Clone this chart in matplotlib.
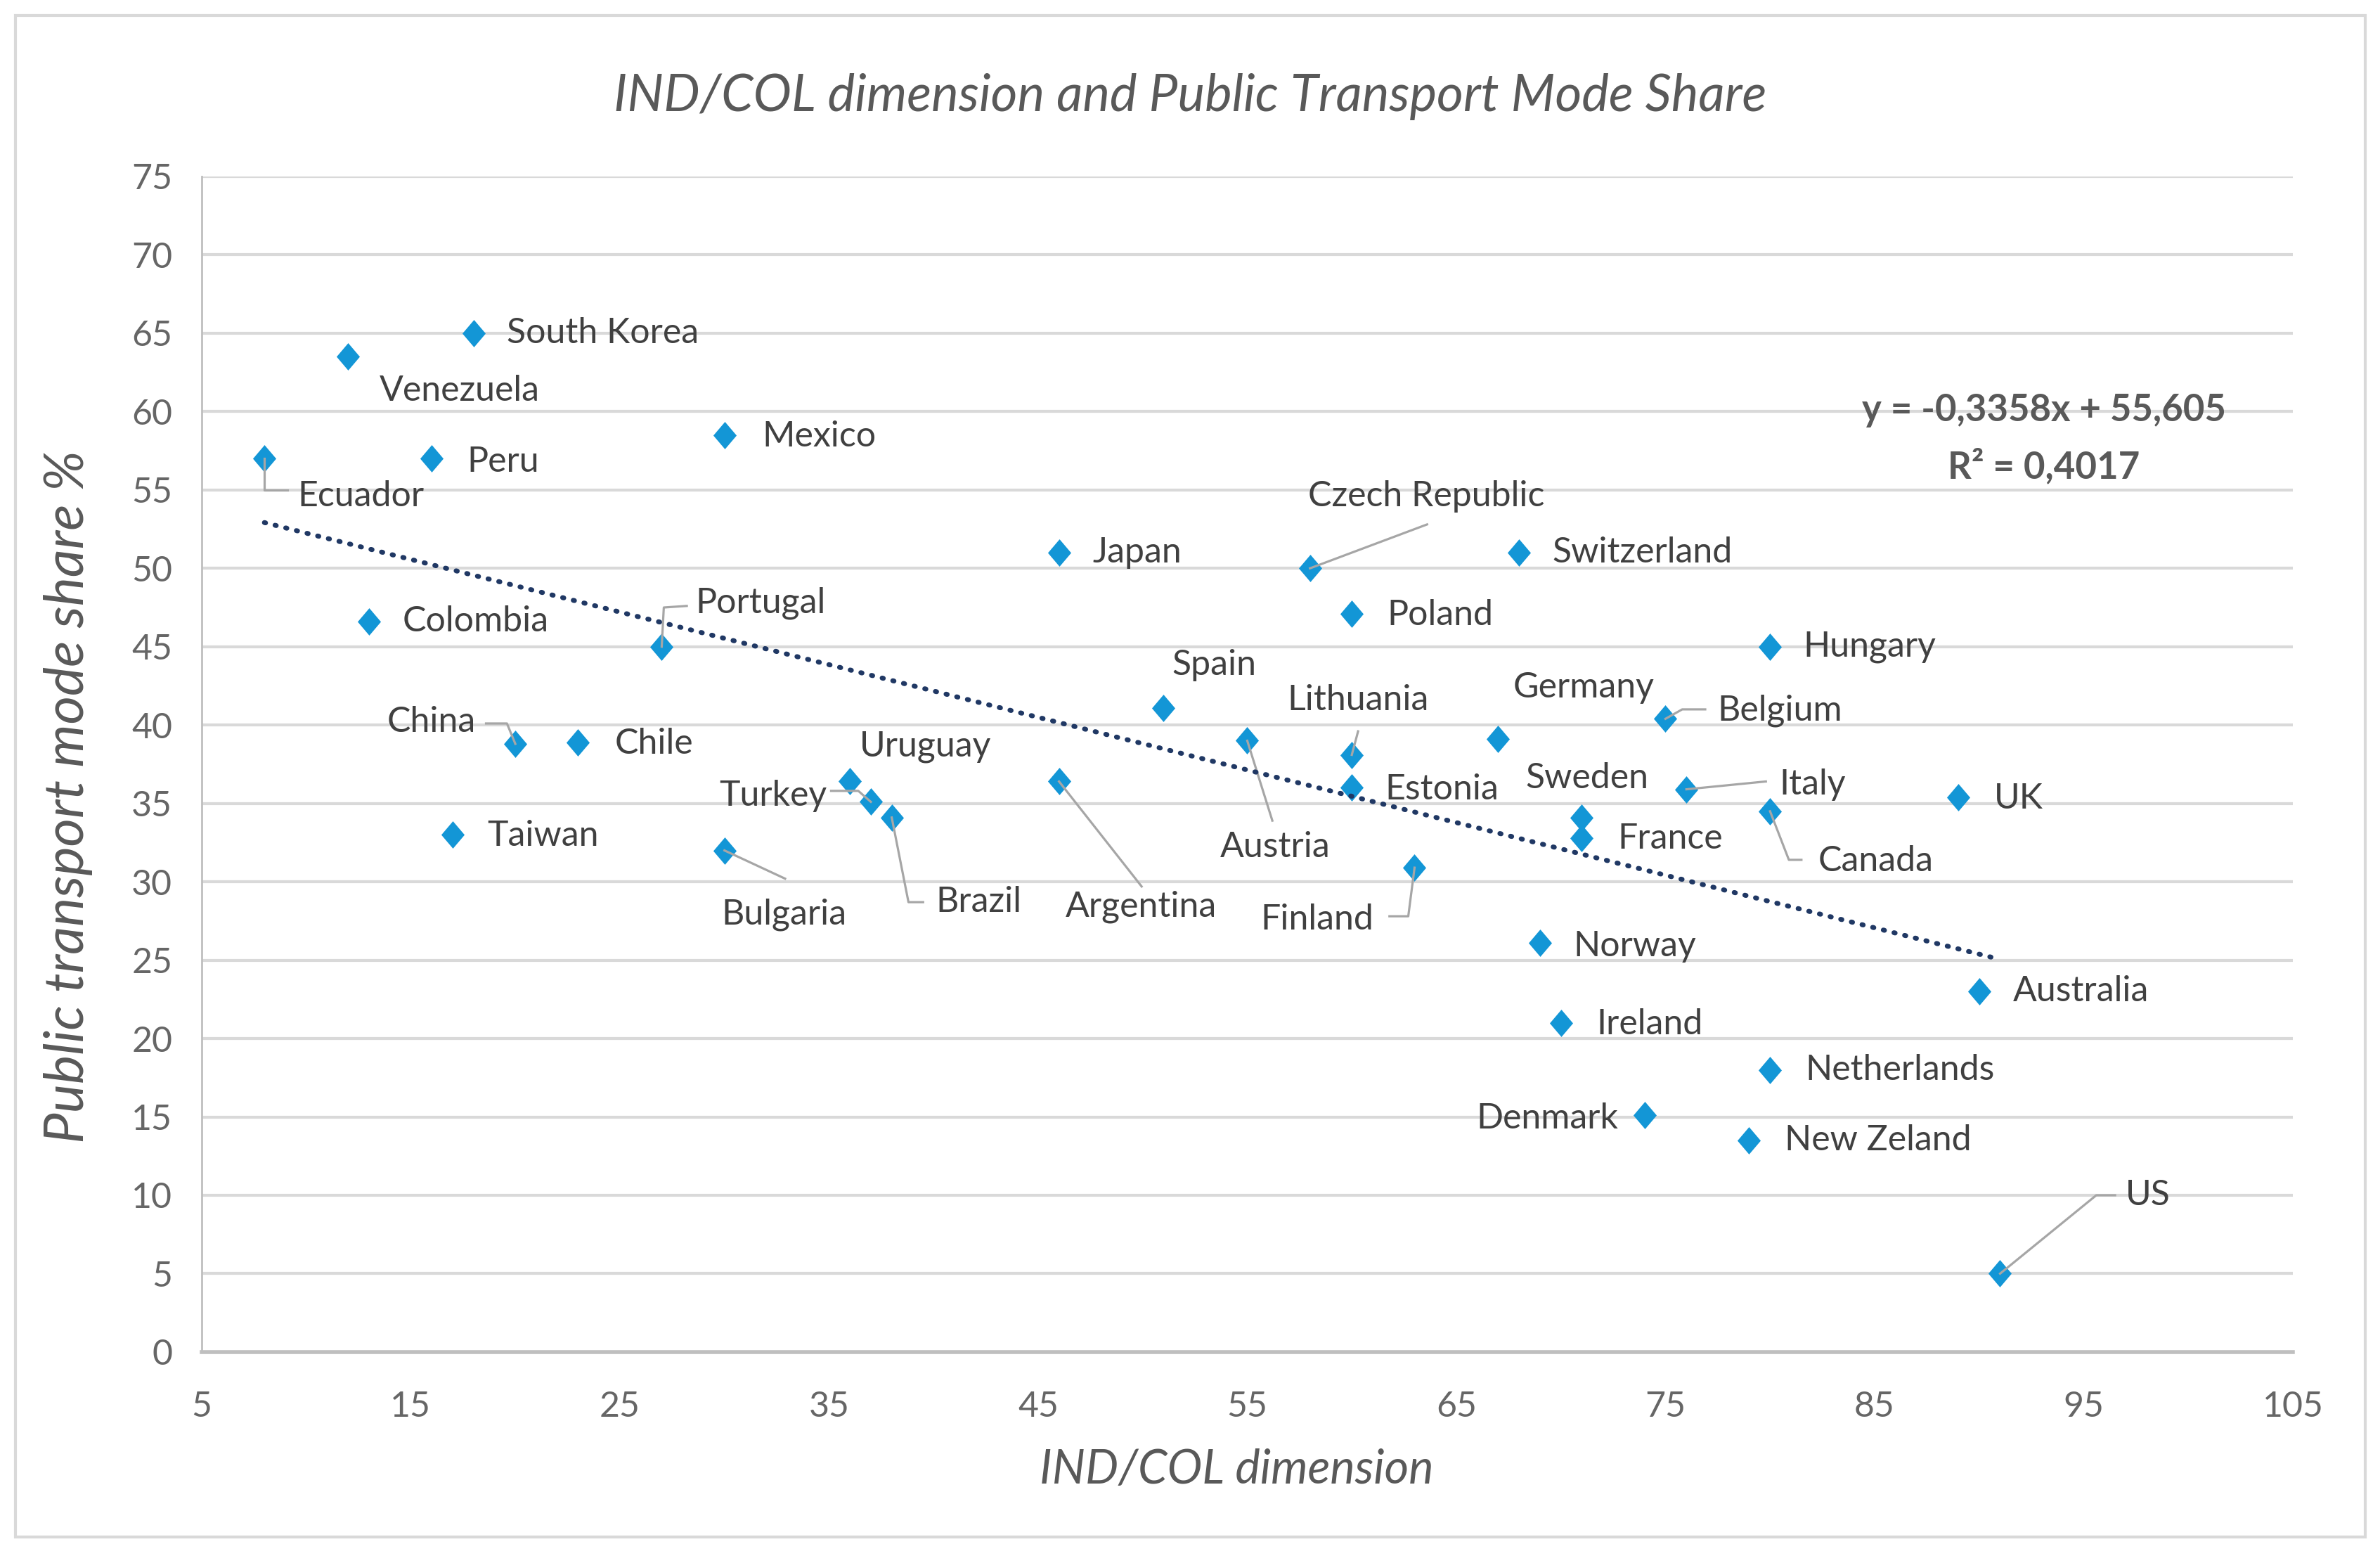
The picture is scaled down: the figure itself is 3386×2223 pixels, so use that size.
import numpy as np
import matplotlib.pyplot as plt
from matplotlib.patches import Rectangle

plt.rcParams['font.family'] = ['Lato', 'DejaVu Sans']

# data
countries = ["South Korea", "Venezuela", "Ecuador", "Peru", "Mexico", "Colombia",
             "Portugal", "China", "Chile", "Taiwan", "Bulgaria", "Uruguay", "Turkey",
             "Brazil", "Japan", "Argentina", "Spain", "Austria", "Czech Republic",
             "Poland", "Lithuania", "Estonia", "Finland", "Germany", "Switzerland",
             "Sweden", "France", "Norway", "Ireland", "Denmark", "Belgium", "Italy",
             "Hungary", "Canada", "Netherlands", "New Zeland", "UK", "Australia", "US"]
ind_col = [18, 12, 8, 16, 30, 13, 27, 20, 23, 17, 30, 36, 37, 38, 46, 46, 51, 55, 58,
           60, 60, 60, 63, 67, 68, 71, 71, 69, 70, 74, 75, 76, 80, 80, 80, 79, 89, 90, 91]
pt_share = [65, 63.5, 57, 57, 58.5, 46.6, 45, 38.8, 38.9, 33, 32, 36.4, 35.1, 34.1,
            51, 36.4, 41.1, 39, 50, 47.1, 38.1, 36, 30.9, 39.1, 51, 34.1, 32.8, 26.1,
            21, 15.1, 40.4, 35.9, 45, 34.5, 18, 13.5, 35.4, 23, 5]

slope = -0.3358
intercept = 55.605
r2 = 0.4017

x_ticks = list(range(5, 106, 10))
y_ticks = list(range(0, 76, 5))

# label layout: text anchor (x, y, ha)
label_pos = {
    "South Korea": (19.6, 65.0, "left"), "Venezuela": (13.5, 61.3, "left"),
    "Ecuador": (9.6, 54.6, "left"), "Peru": (17.7, 56.8, "left"),
    "Mexico": (31.8, 58.4, "left"), "Colombia": (14.6, 46.6, "left"),
    "Portugal": (28.6, 47.8, "left"), "China": (18.1, 40.2, "right"),
    "Chile": (24.75, 38.8, "left"), "Taiwan": (18.65, 32.9, "left"),
    "Bulgaria": (29.85, 27.9, "left"), "Uruguay": (36.45, 38.6, "left"),
    "Turkey": (34.9, 35.5, "right"), "Brazil": (40.1, 28.7, "left"),
    "Japan": (47.6, 51.0, "left"), "Argentina": (46.3, 28.4, "left"),
    "Spain": (51.4, 43.8, "left"), "Austria": (53.7, 32.2, "left"),
    "Czech Republic": (57.9, 54.6, "left"), "Poland": (61.7, 47.0, "left"),
    "Lithuania": (56.9, 41.6, "left"), "Estonia": (61.6, 35.9, "left"),
    "Finland": (61.06, 27.6, "right"), "Germany": (67.7, 42.4, "left"),
    "Switzerland": (69.6, 51.0, "left"), "Sweden": (68.3, 36.6, "left"),
    "France": (72.7, 32.75, "left"), "Norway": (70.6, 25.9, "left"),
    "Ireland": (71.7, 20.9, "left"), "Denmark": (72.75, 14.9, "right"),
    "Belgium": (77.5, 40.9, "left"), "Italy": (80.45, 36.2, "left"),
    "Hungary": (81.6, 45.0, "left"), "Canada": (82.3, 31.3, "left"),
    "Netherlands": (81.7, 18.0, "left"), "New Zeland": (80.7, 13.5, "left"),
    "UK": (90.7, 35.3, "left"), "Australia": (91.6, 23.0, "left"),
    "US": (97.0, 10.0, "left"),
}

# leader line bends, starting from the marker
leaders = {
    "Ecuador": [(8, 55.0), (9.1, 55.0)],
    "Portugal": [(27.1, 47.5), (28.2, 47.6)],
    "China": [(19.6, 40.1), (18.6, 40.1)],
    "Bulgaria": [(32.9, 30.2)],
    "Turkey": [(36.4, 35.8), (35.1, 35.8)],
    "Brazil": [(38.8, 28.7), (39.5, 28.7)],
    "Argentina": [(49.95, 29.7)],
    "Austria": [(56.2, 33.9)],
    "Czech Republic": [(63.6, 52.8)],
    "Lithuania": [(60.3, 39.6)],
    "Finland": [(62.7, 27.8), (61.8, 27.8)],
    "Belgium": [(75.8, 41.0), (76.9, 41.0)],
    "Italy": [(79.8, 36.4)],
    "Canada": [(80.9, 31.4), (81.5, 31.4)],
    "US": [(95.6, 10.0), (96.5, 10.0)],
}

fig = plt.figure(figsize=(33.87, 22.23), dpi=100)
ax = fig.add_axes([0.0847, 0.135, 0.8784, 0.7521])

ax.set_xlim(5, 105)
ax.set_ylim(0, 75)
ax.set_xticks(x_ticks)
ax.set_yticks(y_ticks)
ax.grid(axis="y", color="#d9d9d9", linewidth=3, zorder=0)
ax.set_axisbelow(True)
for s in ["top", "right"]:
    ax.spines[s].set_visible(False)
ax.spines["left"].set_color("#bfbfbf")
ax.spines["left"].set_linewidth(2)
ax.spines["bottom"].set_color("#bfbfbf")
ax.spines["bottom"].set_linewidth(4)
ax.tick_params(axis="both", length=0, labelsize=36, labelcolor="#666666")
ax.tick_params(axis="y", pad=30)
ax.tick_params(axis="x", pad=40)

diamond = [(0, 1), (0.85, 0), (0, -1), (-0.85, 0), (0, 1)]
ax.plot(ind_col, pt_share, linestyle="none", marker=diamond, markersize=28,
        color="#1396d6", markeredgewidth=0, zorder=3)

xs = np.array([min(ind_col), max(ind_col)])
ax.plot(xs, slope * xs + intercept, color="#203864", linewidth=5,
        dashes=(0.25, 2.0), dash_capstyle="round", zorder=5)

for name, x, y in zip(countries, ind_col, pt_share):
    if name in leaders:
        pts = [(x, y)] + leaders[name]
        ax.plot([p[0] for p in pts], [p[1] for p in pts], color="#a6a6a6",
                linewidth=2.3, zorder=4)
    tx, ty, ha = label_pos[name]
    ax.text(tx, ty, name, ha=ha, va="center", fontsize=36, color="#404040", zorder=6)

eq = "y = " + f"{slope:.4f}".replace(".", ",") + "x + " + f"{intercept:.3f}".replace(".", ",")
ax.text(93.1, 60.1, eq, ha="center", va="center", fontsize=38, fontweight="bold",
        color="#595959", zorder=6)
ax.text(93.1, 56.5, "R² = " + f"{r2:.4f}".replace(".", ","), ha="center", va="center",
        fontsize=38, fontweight="bold", color="#595959", zorder=6)

fig.text(0.5, 0.938, "IND/COL dimension and Public Transport Mode Share", ha="center",
         va="center", fontsize=52.5, style="italic", color="#595959")
fig.text(0.5194, 0.0594, "IND/COL dimension", ha="center", va="center", fontsize=48,
         style="italic", color="#595959")
fig.text(0.0286, 0.4903, "Public transport mode share %", ha="center", va="center",
         fontsize=56, style="italic", color="#595959", rotation=90)

fig.patches.append(Rectangle((0.0065, 0.0166), 0.987, 0.9735, transform=fig.transFigure,
                             fill=False, edgecolor="#d9d9d9", linewidth=3))

fig.savefig("out.png", dpi=100, facecolor="white")
